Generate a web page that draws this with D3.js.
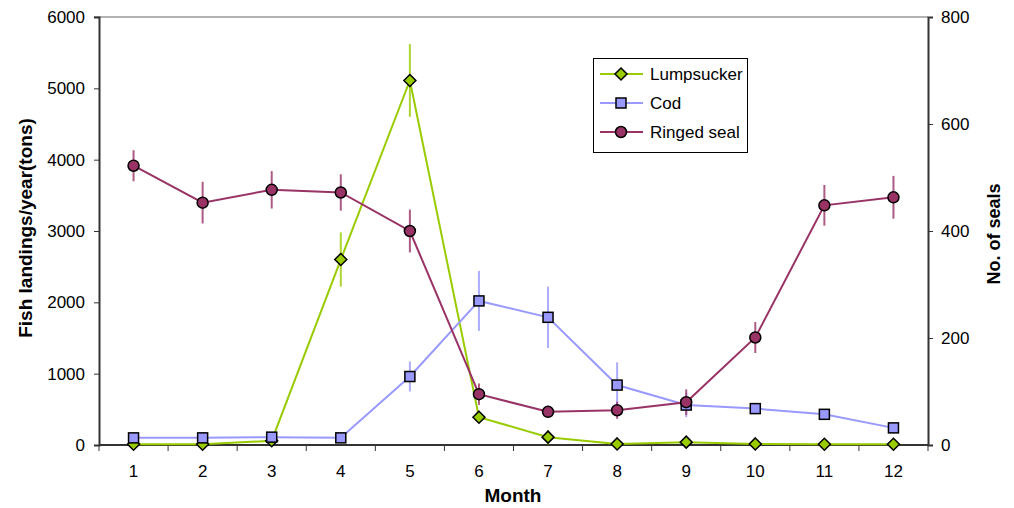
<!DOCTYPE html>
<html><head><meta charset="utf-8">
<script src="https://cdn.jsdelivr.net/npm/d3@7"></script>
<style>body{margin:0;background:#fff}svg{display:block;font-family:"Liberation Sans",Arial,sans-serif}</style>
</head><body><svg id="c" width="1014" height="508"></svg>
<script>
const months = [1,2,3,4,5,6,7,8,9,10,11,12];
const lumpsucker = [10,10,60,2600,5110,390,110,15,40,15,10,10];
const lumpsuckerErr = [0,0,0,380,510,80,100,0,0,0,0,0];
const cod = [100,100,110,100,960,2020,1790,840,560,510,430,240];
const codErr = [0,0,0,0,210,420,430,320,170,60,0,0];
const seal = [522,453,477,472,400,95,62,65,80,201,448,463];
const sealErr = [29,39,35,34,40,20,6,16,24,29,38,40];
const leftTicks = [0,1000,2000,3000,4000,5000,6000];
const rightTicks = [0,200,400,600,800];
const seriesNames = ["Lumpsucker","Cod","Ringed seal"];
const colors = ["#99CC00","#9999FF","#993366"];

const svg = d3.select("#c");
const L = 99, R = 928, T = 17, B = 445;
const x = d3.scaleBand().domain(months).range([L, R]);
const xc = d => x(d) + x.bandwidth()/2;
const yL = d3.scaleLinear().domain([0,6000]).range([B, T]);
const yR = d3.scaleLinear().domain([0,800]).range([B, T]);

// top border
svg.append("line").attr("x1",L-5).attr("x2",R).attr("y1",T).attr("y2",T).attr("stroke","#999").attr("stroke-width",1.5);

// axes
const gl = svg.append("g").attr("transform",`translate(${L},0)`)
  .call(d3.axisLeft(yL).tickValues(leftTicks).tickSize(5).tickPadding(9).tickFormat(d3.format("d")));
const gr = svg.append("g").attr("transform",`translate(${R},0)`)
  .call(d3.axisRight(yR).tickValues(rightTicks).tickSize(5).tickPadding(8).tickFormat(d3.format("d")));
const gb = svg.append("g").attr("transform",`translate(0,${B})`)
  .call(d3.axisBottom(x).tickSize(0).tickPadding(20));
const bounds = months.map(m => x(m)).concat([R]);
gb.selectAll(".bt").data(bounds).enter().append("line").attr("class","bt")
  .attr("x1",d=>d).attr("x2",d=>d).attr("y1",0).attr("y2",6).attr("stroke","#333").attr("stroke-width",1);
[gl,gr,gb].forEach(g=>{
  g.select(".domain").attr("stroke","#333").attr("stroke-width",2);
  g.selectAll(".tick line").attr("stroke","#333");
  g.selectAll("text").attr("font-size",17).attr("fill","#000").attr("font-family","Liberation Sans, Arial, sans-serif");
});
gb.selectAll(".tick text").attr("dy",null).attr("y",32);
gb.select(".domain").attr("d",`M${L},0H${R}`);

// titles
svg.append("text").attr("transform","translate(32,228) rotate(-90)").attr("text-anchor","middle")
  .attr("font-size",19).attr("font-weight","bold").text("Fish landings/year(tons)");
svg.append("text").attr("transform","translate(1000,234) rotate(-90)").attr("text-anchor","middle")
  .attr("font-size",18).attr("font-weight","bold").text("No. of seals");
svg.append("text").attr("x",513).attr("y",502).attr("text-anchor","middle")
  .attr("font-size",19).attr("font-weight","bold").text("Month");

const series = [
  {vals:lumpsucker, err:lumpsuckerErr, y:yL, color:colors[0], shape:"diamond"},
  {vals:cod, err:codErr, y:yL, color:colors[1], shape:"square"},
  {vals:seal, err:sealErr, y:yR, color:colors[2], shape:"circle"}
];
function marker(g, shape, color, cx, cy){
  if(shape==="diamond"){
    g.append("path").attr("d",`M${cx},${cy-6}L${cx+6},${cy}L${cx},${cy+6}L${cx-6},${cy}Z`)
      .attr("fill",color).attr("stroke","#000").attr("stroke-width",1.5);
  } else if(shape==="square"){
    g.append("rect").attr("x",cx-5).attr("y",cy-5).attr("width",10).attr("height",10)
      .attr("fill",color).attr("stroke","#000").attr("stroke-width",1.5);
  } else {
    g.append("circle").attr("cx",cx).attr("cy",cy).attr("r",5.5)
      .attr("fill",color).attr("stroke","#000").attr("stroke-width",1.5);
  }
}
series.forEach(s=>{
  const g = svg.append("g");
  months.forEach((m,i)=>{
    if(s.err[i]>0){
      g.append("line").attr("x1",xc(m)).attr("x2",xc(m))
        .attr("y1",s.y(s.vals[i]+s.err[i])).attr("y2",s.y(Math.max(0,s.vals[i]-s.err[i])))
        .attr("stroke",s.color).attr("stroke-width",2).attr("opacity",0.8);
    }
  });
  const line = d3.line().x((d,i)=>xc(months[i])).y(d=>s.y(d));
  g.append("path").attr("d",line(s.vals)).attr("fill","none").attr("stroke",s.color).attr("stroke-width",2);
});
series.forEach(s=>{
  const g = svg.append("g");
  s.vals.forEach((v,i)=>marker(g,s.shape,s.color,xc(months[i]),s.y(v)));
});

// legend
const lg = svg.append("g");
lg.append("rect").attr("x",593.5).attr("y",58.5).attr("width",154).attr("height",94).attr("fill","#fff").attr("stroke","#000").attr("stroke-width",1);
series.forEach((s,i)=>{
  const yy = 74 + i*29;
  lg.append("line").attr("x1",600).attr("x2",643).attr("y1",yy).attr("y2",yy).attr("stroke",s.color).attr("stroke-width",2);
  marker(lg,s.shape,s.color,621,yy);
  lg.append("text").attr("x",650).attr("y",yy+6).attr("font-size",17).text(seriesNames[i]);
});
</script></body></html>
